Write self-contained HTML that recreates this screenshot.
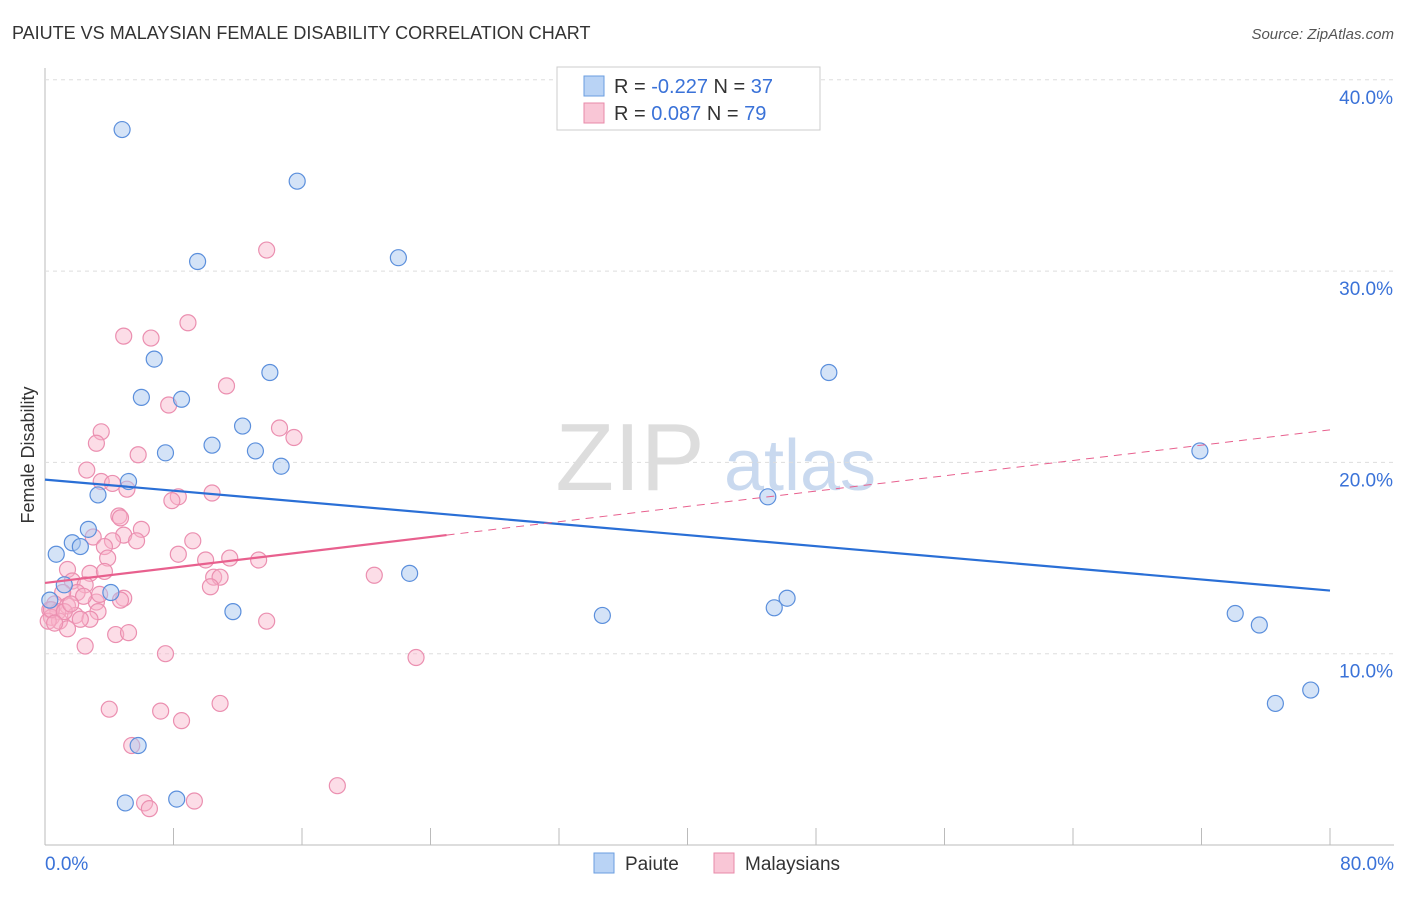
<!DOCTYPE html>
<html><head><meta charset="utf-8"><style>
body{margin:0;background:#fff;font-family:"Liberation Sans",sans-serif}
svg text{font-family:"Liberation Sans",sans-serif}
</style></head><body>
<svg id="c" width="1406" height="892">
<text x="12" y="39" font-size="18" fill="#333">PAIUTE VS MALAYSIAN FEMALE DISABILITY CORRELATION CHART</text>
<text x="1394" y="39" font-size="15" fill="#555" text-anchor="end" font-style="italic">Source: ZipAtlas.com</text>
<text x="630" y="490" font-size="96" fill="#ddd" font-family="Liberation Serif" text-anchor="middle">ZIP</text>
<text x="800" y="490" font-size="72" fill="#c9d9ef" text-anchor="middle">atlas</text>
<text transform="translate(34,455) rotate(-90)" font-size="18" fill="#333" text-anchor="middle">Female Disability</text>
<g id="grid"></g><g id="pts"></g><g id="lines"></g>
<g>
<rect x="557" y="67" width="263" height="63" fill="#fff" stroke="#ccc"/>
<rect x="584" y="76" width="20" height="20" fill="#b9d3f5" stroke="#6a9ee0"/>
<text x="614" y="93" font-size="20" fill="#333">R = <tspan fill="#3a72d8">-0.227</tspan>   N = <tspan fill="#3a72d8">37</tspan></text>
<rect x="584" y="103" width="20" height="20" fill="#f9c6d6" stroke="#e88aa8"/>
<text x="614" y="120" font-size="20" fill="#333">R =  <tspan fill="#3a72d8">0.087</tspan>   N = <tspan fill="#3a72d8">79</tspan></text>
</g>
<g>
<rect x="594" y="853" width="20" height="20" fill="#b9d3f5" stroke="#6a9ee0"/>
<text x="625" y="870" font-size="19" fill="#333">Paiute</text>
<rect x="714" y="853" width="20" height="20" fill="#f9c6d6" stroke="#e88aa8"/>
<text x="745" y="870" font-size="19" fill="#333">Malaysians</text>
</g>
</svg>
<script>
const xTicks=[0,8,16,24,32,40,48,56,64,72,80];
const yTicks=[10,20,30,40];
const blueX=[4.8,15.7,9.5,22.0,6.8,14.0,48.8,6.0,8.5,12.3,10.4,7.5,13.1,14.7,71.9,5.2,3.3,45.0,2.7,1.7,2.2,0.7,22.7,1.2,4.1,11.7,34.7,45.4,46.2,74.1,75.6,76.6,78.8,5.8,5.0,8.2,0.3];
const blueY=[37.4,34.7,30.5,30.7,25.4,24.7,24.7,23.4,23.3,21.9,20.9,20.5,20.6,19.8,20.6,19.0,18.3,18.2,16.5,15.8,15.6,15.2,14.2,13.6,13.2,12.2,12.0,12.4,12.9,12.1,11.5,7.4,8.1,5.2,2.2,2.4,12.8];
const pinkX=[13.8,8.9,4.9,6.6,11.3,7.7,3.5,3.2,14.6,15.5,5.8,2.6,3.5,4.2,5.1,8.3,7.9,10.4,4.6,4.7,6.0,3.0,4.9,4.2,5.7,3.7,9.2,8.3,11.5,13.3,10.0,3.9,1.4,2.8,3.7,10.5,10.9,20.5,1.7,2.5,10.3,2.0,1.1,4.9,4.7,3.2,2.4,0.6,1.4,0.3,0.8,3.3,1.9,2.8,0.4,0.9,0.2,13.8,1.4,4.4,5.2,2.5,7.5,23.1,4.0,7.2,8.5,10.9,5.4,18.2,6.2,6.5,9.3,0.4,1.2,2.2,0.6,1.6,3.4];
const pinkY=[31.1,27.3,26.6,26.5,24.0,23.0,21.6,21.0,21.8,21.3,20.4,19.6,19.0,18.9,18.6,18.2,18.0,18.4,17.2,17.1,16.5,16.1,16.2,15.9,15.9,15.6,15.9,15.2,15.0,14.9,14.9,15.0,14.4,14.2,14.3,14.0,14.0,14.1,13.8,13.6,13.5,13.2,13.2,12.9,12.8,12.7,13.0,12.6,12.5,12.3,12.2,12.2,12.0,11.8,11.9,11.7,11.7,11.7,11.3,11.0,11.1,10.4,10.0,9.8,7.1,7.0,6.5,7.4,5.2,3.1,2.2,1.9,2.3,12.3,12.2,11.8,11.6,12.6,13.1];
const blueLine=[19.1,13.3];
const pinkLine=[13.7,21.7];
const X=v=>45+v/80*1285, Y=v=>845-v*19.13;
const NS='http://www.w3.org/2000/svg';
function mk(p,t,a){const e=document.createElementNS(NS,t);for(const k in a)e.setAttribute(k,a[k]);document.getElementById(p).appendChild(e);return e;}
let e=mk('grid','line',{x1:45,y1:68,x2:45,y2:845,stroke:'#bbb'});

e=mk('grid','line',{x1:45,y1:845,x2:1394,y2:845,stroke:'#bbb'});

xTicks.forEach(t=>{if(t===0)return;const l=mk('grid','line',{x1:X(t),y1:828,x2:X(t),y2:845,stroke:'#bbb'});
});
yTicks.forEach(t=>{const l=mk('grid','line',{x1:45,y1:Y(t),x2:1394,y2:Y(t),stroke:'#ddd','stroke-dasharray':'4,4'});

const tx=mk('grid','text',{x:1393,y:Y(t)+24,'font-size':19,fill:'#3a72d8','text-anchor':'end'});tx.textContent=t.toFixed(1)+'%';
});
[[0,45,'start'],[80,1394,'end']].forEach(([v,x,a])=>{const tx=mk('grid','text',{x:x,y:870,'font-size':19,fill:'#3a72d8','text-anchor':a});tx.textContent=v.toFixed(1)+'%';
});
pinkX.forEach((v,i)=>{const c=mk('pts','circle',{cx:X(v),cy:Y(pinkY[i]),r:8,fill:'rgba(248,180,202,0.45)',stroke:'#eb8fb0','stroke-width':1.2});
});
blueX.forEach((v,i)=>{const c=mk('pts','circle',{cx:X(v),cy:Y(blueY[i]),r:8,fill:'rgba(170,200,240,0.5)',stroke:'#5b8fdc','stroke-width':1.2});
});
e=mk('lines','line',{x1:X(0),y1:Y(blueLine[0]),x2:X(80),y2:Y(blueLine[1]),stroke:'#2a6fd6','stroke-width':2.2});

const pv=x=>pinkLine[0]+(pinkLine[1]-pinkLine[0])*x/80;
e=mk('lines','line',{x1:X(0),y1:Y(pv(0)),x2:X(25),y2:Y(pv(25)),stroke:'#e8608e','stroke-width':2.2});

e=mk('lines','line',{x1:X(25),y1:Y(pv(25)),x2:X(80),y2:Y(pv(80)),stroke:'#e8608e','stroke-width':1,'stroke-dasharray':'8,6'});

</script>
</body></html>
